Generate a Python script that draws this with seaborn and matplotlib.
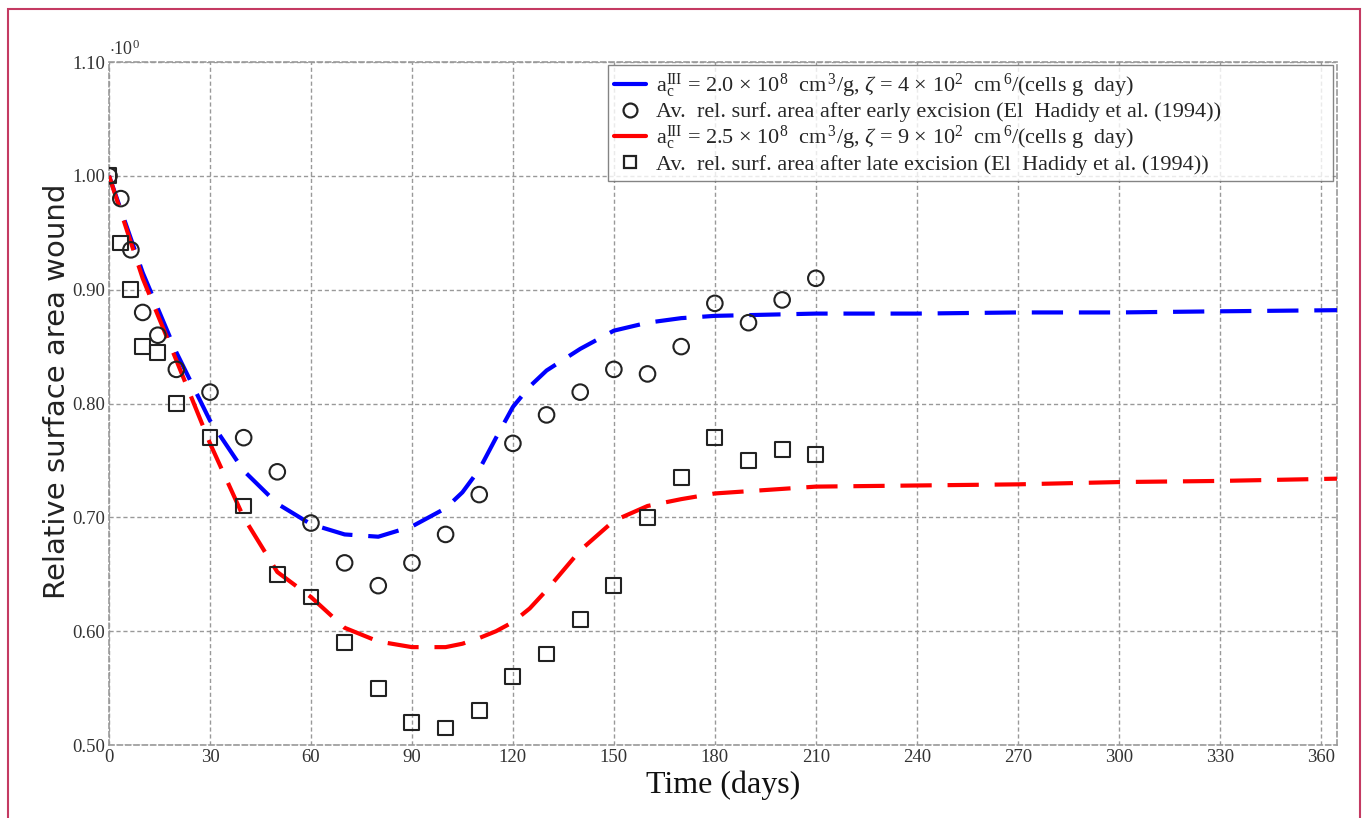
import numpy as np
import pandas as pd
import matplotlib
matplotlib.use("Agg")
import matplotlib.pyplot as plt
from matplotlib.lines import Line2D
from matplotlib.patches import Rectangle
import seaborn as sns

# ---- data ----
exp_days = [0, 3.5, 6.5, 10, 14.5, 20, 30, 40, 50, 60, 70, 80, 90, 100, 110, 120,
            130, 140, 150, 160, 170, 180, 190, 200, 210]
early_obs = [1.00, 0.98, 0.935, 0.88, 0.86, 0.83, 0.81, 0.77, 0.74, 0.695, 0.66, 0.64,
             0.66, 0.685, 0.72, 0.765, 0.79, 0.81, 0.83, 0.826, 0.85, 0.888, 0.871, 0.891, 0.91]
late_obs = [1.00, 0.941, 0.90, 0.85, 0.845, 0.80, 0.77, 0.71, 0.65, 0.63, 0.59, 0.55,
            0.52, 0.515, 0.53, 0.56, 0.58, 0.61, 0.64, 0.70, 0.735, 0.77, 0.75, 0.76, 0.755]

model_days = [0, 10, 20, 30, 40, 50, 60, 70, 80, 90, 100, 105, 110, 115, 120, 125, 130,
              140, 150, 160, 170, 180, 210, 240, 270, 300, 330, 365]
early_model = [1.00, 0.915, 0.845, 0.785, 0.741, 0.712, 0.694, 0.685, 0.683, 0.692, 0.708,
               0.722, 0.742, 0.770, 0.797, 0.815, 0.829, 0.848, 0.864, 0.871, 0.875, 0.877,
               0.879, 0.879, 0.880, 0.880, 0.881, 0.882]
late_model = [1.00, 0.910, 0.838, 0.765, 0.700, 0.652, 0.630, 0.603, 0.591, 0.586, 0.586,
              0.589, 0.594, 0.600, 0.608, 0.620, 0.636, 0.671, 0.697, 0.710, 0.716, 0.721,
              0.727, 0.728, 0.729, 0.731, 0.732, 0.734]

x_ticks = [0, 30, 60, 90, 120, 150, 180, 210, 240, 270, 300, 330, 360]
y_ticks = [0.50, 0.60, 0.70, 0.80, 0.90, 1.00, 1.10]

lab_blue = r"$\mathregular{a_c^{III}}$ = 2.0 $\times$ 10$^8$  cm$^{\,3}$/g, $\zeta$ = 4 $\times$ 10$^2$  cm$^{\,6}$/(cells g  day)"
lab_circ = "Av.  rel. surf. area after early excision (El  Hadidy et al. (1994))"
lab_red = r"$\mathregular{a_c^{III}}$ = 2.5 $\times$ 10$^8$  cm$^{\,3}$/g, $\zeta$ = 9 $\times$ 10$^2$  cm$^{\,6}$/(cells g  day)"
lab_sq = "Av.  rel. surf. area after late excision (El  Hadidy et al. (1994))"

model_df = pd.DataFrame({"day": model_days, "early": early_model, "late": late_model})
obs_df = pd.DataFrame({"day": exp_days, "early": early_obs, "late": late_obs})

sns.set_theme(style="white")
plt.rcParams["font.family"] = ["Liberation Serif", "DejaVu Serif"]
plt.rcParams["mathtext.fontset"] = "custom"
plt.rcParams["mathtext.rm"] = "Liberation Serif"
plt.rcParams["mathtext.it"] = "Liberation Serif:italic"

fig = plt.figure(figsize=(13.68, 8.18), dpi=100)
ax = fig.add_axes([0.0797, 0.0892, 0.898, 0.835])

sns.lineplot(data=model_df, x="day", y="early", ax=ax, color="#0000ff", lw=3.0,
             dashes=False, zorder=3)
sns.lineplot(data=model_df, x="day", y="late", ax=ax, color="#ff0000", lw=3.0,
             dashes=False, zorder=3)
for ln in ax.get_lines():
    ln.set_dashes((7.5, 3.8))

sns.scatterplot(data=obs_df, x="day", y="early", ax=ax, marker="o", s=125,
                facecolor="none", edgecolor="#222222", linewidth=1.5, zorder=4)
sns.scatterplot(data=obs_df, x="day", y="late", ax=ax, marker="s", s=115,
                facecolor="none", edgecolor="#222222", linewidth=1.5, zorder=4)

ax.set_xlim(0, 365)
ax.set_ylim(0.50, 1.10)
ax.set_xticks(x_ticks)
ax.set_yticks(y_ticks)
ax.set_yticklabels([f"{v:.2f}" for v in y_ticks])
ax.tick_params(axis="both", labelsize=13.5, colors="#333333", length=3, direction="in",
               pad=3)
ax.grid(True, color="#999999", linestyle=(0, (3, 2)), linewidth=1.0)
for sp in ax.spines.values():
    sp.set_linestyle((0, (3, 2)))
    sp.set_color("#999999")
    sp.set_linewidth(1.2)

ax.set_xlabel("Time (days)", fontsize=23, color="#111111", labelpad=3)
ax.set_ylabel("Relative surface area wound", fontsize=21, color="#222222",
              family=["DejaVu Sans"])
ax.yaxis.set_label_coords(-0.031, 0.518)
ax.text(0.0, 1.005, r"$\cdot 10^{0}$", transform=ax.transAxes, fontsize=13,
        color="#333333", ha="left", va="bottom")

handles = [
    Line2D([], [], color="#0000ff", lw=3),
    Line2D([], [], ls="none", marker="o", markersize=10, markerfacecolor="none",
           markeredgecolor="#222222", markeredgewidth=1.6),
    Line2D([], [], color="#ff0000", lw=3),
    Line2D([], [], ls="none", marker="s", markersize=9, markerfacecolor="none",
           markeredgecolor="#222222", markeredgewidth=1.6),
]
leg = ax.legend(handles, [lab_blue, lab_circ, lab_red, lab_sq], loc="upper right",
                bbox_to_anchor=(0.406, 0.5, 0.5905, 0.4955), mode="expand",
                fontsize=16, frameon=True, fancybox=False,
                edgecolor="#666666", handlelength=1.4, handletextpad=0.45,
                labelspacing=0.08, borderpad=0.3, borderaxespad=0.0)
leg.get_frame().set_linewidth(1.0)

fig.patches.append(Rectangle((0.006, -0.01), 0.988, 0.9995, transform=fig.transFigure,
                             fill=False, edgecolor="#c43a62", linewidth=1.5))

fig.savefig("out.png", dpi=100, facecolor="white")
